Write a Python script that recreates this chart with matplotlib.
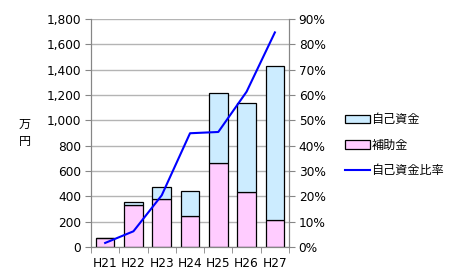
import numpy as np
import matplotlib.pyplot as plt
from matplotlib.patches import Patch
from matplotlib.lines import Line2D

# data (万円 / %)
years = ['H21', 'H22', 'H23', 'H24', 'H25', 'H26', 'H27']
subsidy = [69, 334, 379, 242, 661, 432, 216]      # 補助金
own_funds = [2, 21, 97, 200, 555, 702, 1210]      # 自己資金
own_ratio = [1.6, 6.2, 20.4, 44.9, 45.4, 61.3, 84.7]  # 自己資金比率 (%)

CJK = ['Noto Sans CJK JP', 'DejaVu Sans']
GRID = '#b4b4b4'
SPINE = '#868686'
FS = 8.7

fig = plt.figure(figsize=(4.49, 2.69), dpi=100)
ax = fig.add_axes([0.2027, 0.0818, 0.441, 0.8476])

x = np.arange(len(years))
w = 0.66
ax.bar(x, subsidy, w, color='#FFCCFF', edgecolor='black', linewidth=0.9, zorder=2)
ax.bar(x, own_funds, w, bottom=subsidy, color='#CCECFF', edgecolor='black', linewidth=0.9, zorder=2)

ax.set_xlim(-0.5, len(years) - 0.5)
ax.set_ylim(0, 1800)
ax.set_yticks(np.arange(0, 1801, 200))
ax.set_yticklabels([f'{v:,}' for v in range(0, 1801, 200)], fontsize=FS)
ax.set_xticks(x)
ax.set_xticklabels(years, fontsize=FS)
ax.set_xticks(np.arange(-0.5, len(years), 1), minor=True)
ax.tick_params(axis='x', which='major', length=0, pad=7)
ax.tick_params(axis='x', which='minor', length=4, color=SPINE)
ax.tick_params(axis='y', length=4, color=SPINE, pad=3)
ax.yaxis.grid(True, color=GRID, linewidth=1.0, zorder=0)
ax.set_axisbelow(True)
for s in ['left', 'bottom', 'right']:
    ax.spines[s].set_color(SPINE)
ax.spines['top'].set_visible(False)

ax.set_ylabel('万\n円', rotation=0, family=CJK, fontsize=FS, labelpad=16,
              va='center', linespacing=1.5)

ax2 = ax.twinx()
ax2.plot(x, own_ratio, color='#0000FF', linewidth=1.5, zorder=3)
ax2.set_ylim(0, 90)
ax2.set_yticks(np.arange(0, 91, 10))
ax2.set_yticklabels([f'{v}%' for v in range(0, 91, 10)], fontsize=FS)
ax2.tick_params(axis='y', length=4, color=SPINE, pad=3)
for s in ['left', 'bottom', 'right']:
    ax2.spines[s].set_color(SPINE)
ax2.spines['top'].set_visible(False)

handles = [
    Patch(facecolor='#CCECFF', edgecolor='black', linewidth=0.9),
    Patch(facecolor='#FFCCFF', edgecolor='black', linewidth=0.9),
    Line2D([0], [0], color='#0000FF', linewidth=1.5),
]
labels = ['自己資金', '補助金', '自己資金比率']
fig.legend(handles, labels, loc='center left', bbox_to_anchor=(0.745, 0.46),
           frameon=False, prop={'family': CJK, 'size': FS},
           handlelength=2.0, handleheight=0.7, handletextpad=0.15, labelspacing=1.05)

fig.savefig('out.png', dpi=100)
